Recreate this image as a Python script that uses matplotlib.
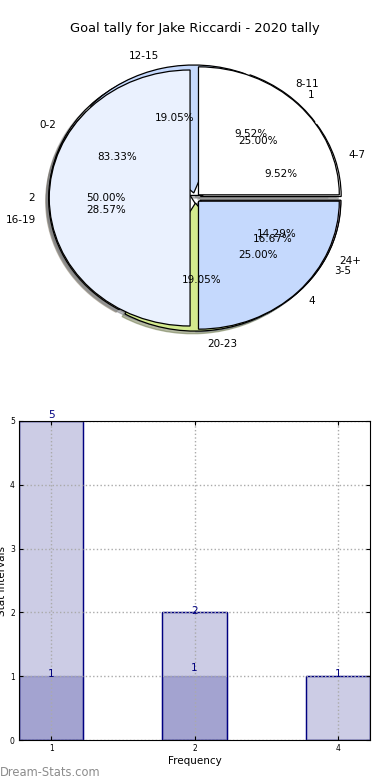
import matplotlib
matplotlib.use('Agg')
import matplotlib.pyplot as plt

# pie data (three pies stacked on the same axes)
interval_labels = ['0-2', '3-5']
interval_counts = [5, 1]

tally_labels = ['4-7', '8-11', '12-15', '16-19', '20-23', '24+']
tally_counts = [2, 2, 4, 6, 4, 3]

freq_labels = ['1', '2', '4']
freq_counts = [1, 2, 1]

# bar data
bar_ticks = ['1', '2', '4']
bars_back = [5, 2, 1]
bars_front = [1, 1, 0]

palette = ['#ffffff', '#eaf1fe', '#c5d9fd', '#fde9c5', '#d3ea8e', '#f3d1e8']

fig = plt.figure(figsize=(3.9, 7.8), dpi=100)

# pie chart
ax1 = fig.add_axes([19 / 390, 1 - 358 / 780, 352 / 390, 320 / 780])
wp = {'edgecolor': 'black', 'linewidth': 0.9}
tp = {'fontsize': 7.5, 'color': 'black'}
shadow = {'ox': -0.015, 'oy': -0.015, 'shade': 0.5}

ax1.pie(interval_counts, labels=interval_labels, autopct='%.2f%%', colors=palette,
        explode=[0.04] * len(interval_counts), shadow=shadow, wedgeprops=wp, textprops=tp)
ax1.pie(tally_counts, labels=tally_labels, autopct='%.2f%%', colors=palette,
        explode=[0.04] * len(tally_counts), shadow=shadow, wedgeprops=wp, textprops=tp)
ax1.pie(freq_counts, labels=freq_labels, autopct='%.2f%%', colors=palette,
        explode=[0.035] * len(freq_counts), shadow=shadow, wedgeprops=wp, textprops=tp)
ax1.set_aspect('auto')
ax1.set_xlim(-1.25, 1.25)
ax1.set_ylim(-1.25, 1.25)
ax1.set_title('Goal tally for Jake Riccardi - 2020 tally', fontsize=9.4, pad=4)

# bar chart
ax2 = fig.add_axes([19 / 390, 40 / 780, 351 / 390, 319 / 780])
x = range(len(bar_ticks))
ax2.bar(x, bars_back, width=0.45, color='navy', alpha=0.2, edgecolor='navy', linewidth=1)
ax2.bar(x, bars_front, width=0.45, color='navy', alpha=0.2, edgecolor='navy', linewidth=1)
ax2.bar(x, bars_back, width=0.45, fill=False, edgecolor='navy', linewidth=1)

for i, v in enumerate(bars_back):
    ax2.text(i, v + 0.02 - 0.07 * (i > 0), str(v), ha='center', va='bottom', color='navy', fontsize=7.5)
for i, v in enumerate(bars_front):
    if v > 0:
        ax2.text(i, v - 0.05 + 0.1 * i, str(v), ha='center', va='bottom', color='navy', fontsize=7.5)

ax2.set_xlim(-0.225, 2.225)
ax2.set_ylim(0, 5)
ax2.set_xticks(list(x))
ax2.set_xticklabels(bar_ticks)
ax2.tick_params(direction='in', labelsize=5.5, top=True, right=True, length=3, pad=3)
ax2.grid(True, linestyle=':', color='#aaaaaa', linewidth=1)
ax2.set_axisbelow('line')
ax2.set_xlabel('Frequency', fontsize=7.5, labelpad=2)
ax2.set_ylabel('Stat Intervals', fontsize=7.5, labelpad=2)

fig.text(0.0, 0.005, 'Dream-Stats.com', color='#8c8c8c', fontsize=8.3)

plt.savefig('out.png', dpi=100)
